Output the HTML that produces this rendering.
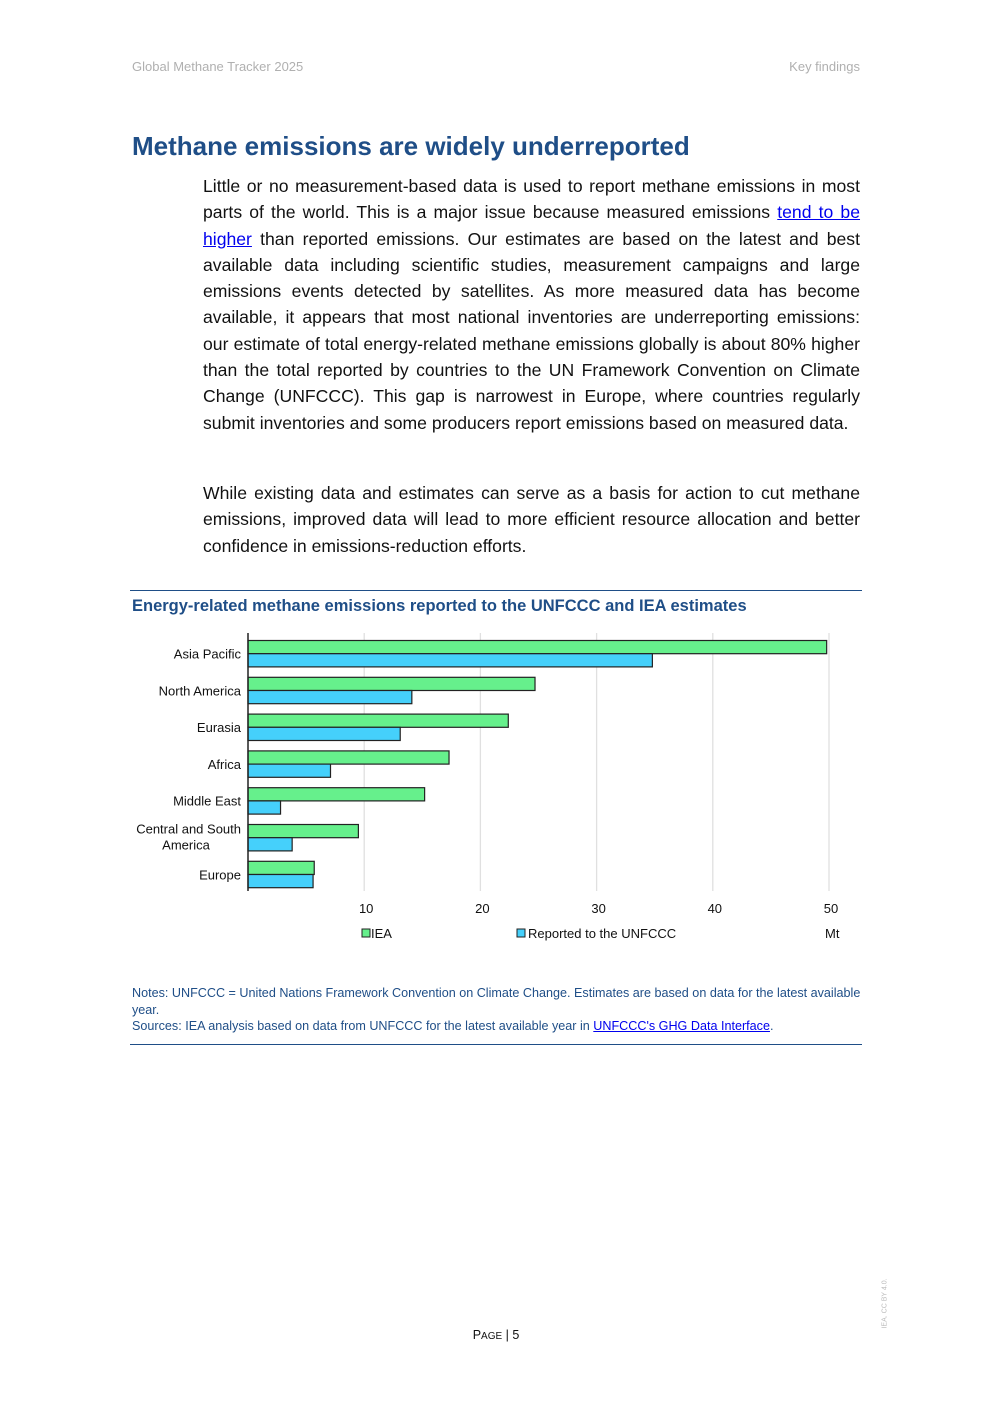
<!DOCTYPE html>
<html><head><meta charset="utf-8"><style>
body{margin:0;background:#fff;font-family:"Liberation Sans",Arial,sans-serif;}
.page{position:relative;width:992px;height:1403px;overflow:hidden;}
.hdr{position:absolute;top:59px;font-size:13px;color:#b0b0b0;}
h1{position:absolute;left:132px;top:131px;margin:0;font-size:26px;color:#1f4e87;font-weight:bold;}
.body{position:absolute;left:203px;width:657px;font-size:17.6px;line-height:26.3px;color:#111;text-align:justify;}
a{color:#0000ee;text-decoration:underline;}
.rule{position:absolute;left:130px;width:732px;height:1px;background:#1f4e87;}
.ctitle{position:absolute;left:132px;top:597px;font-size:16.5px;font-weight:bold;color:#1f4e87;}
.notes{position:absolute;left:132px;top:985px;width:730px;font-size:12.6px;line-height:16.5px;color:#1f4e87;}
.notes a{color:#0000ee;}
</style></head><body>
<div class="page">
<div class="hdr" style="left:132px">Global Methane Tracker 2025</div>
<div class="hdr" style="right:132px">Key findings</div>
<h1>Methane emissions are widely underreported</h1>
<div class="body" style="top:173px">Little or no measurement-based data is used to report methane emissions in most parts of the world. This is a major issue because measured emissions <a>tend to be higher</a> than reported emissions. Our estimates are based on the latest and best available data including scientific studies, measurement campaigns and large emissions events detected by satellites. As more measured data has become available, it appears that most national inventories are underreporting emissions: our estimate of total energy-related methane emissions globally is about 80% higher than the total reported by countries to the UN Framework Convention on Climate Change (UNFCCC). This gap is narrowest in Europe, where countries regularly submit inventories and some producers report emissions based on measured data.</div>
<div class="body" style="top:480px">While existing data and estimates can serve as a basis for action to cut methane emissions, improved data will lead to more efficient resource allocation and better confidence in emissions-reduction efforts.</div>
<div class="rule" style="top:590px"></div>
<div class="ctitle">Energy-related methane emissions reported to the UNFCCC and IEA estimates</div>
<svg id="chart" style="position:absolute;left:0;top:0" width="992" height="960"></svg>
<div class="notes">Notes: UNFCCC = United Nations Framework Convention on Climate Change. Estimates are based on data for the latest available year.<br>Sources: IEA analysis based on data from UNFCCC for the latest available year in <a>UNFCCC's GHG Data Interface</a>.</div>
<div class="rule" style="top:1044px"></div>
<div style="position:absolute;left:0;width:992px;top:1328px;text-align:center;font-size:12.5px;color:#111">P<span style="font-size:10px">AGE</span> | 5</div>
<div style="position:absolute;left:860px;top:1300px;transform:rotate(-90deg);font-size:7px;color:#bbb">IEA. CC BY 4.0.</div>
</div>
<script>
const categories=["Asia Pacific","North America","Eurasia","Africa","Middle East","Central and South America","Europe"];
const ieaValues=[49.8,24.7,22.4,17.3,15.2,9.5,5.7];
const unfcccValues=[34.8,14.1,13.1,7.1,2.8,3.8,5.6];
const tickValues=[10,20,30,40,50];
const NS="http://www.w3.org/2000/svg";
const svg=document.getElementById('chart');
const x0=248,pxPer=11.62,top0=640.5,pitch=36.8,bh=13.2;
const xs=v=>x0+v*pxPer;
function mk(t,a,txt){const e=document.createElementNS(NS,t);for(const k in a)e.setAttribute(k,a[k]);if(txt!==undefined)e.textContent=txt;svg.appendChild(e);return e;}
tickValues.forEach(t=>{
const g=mk('line',{x1:xs(t),x2:xs(t),y1:633,y2:891,stroke:'#e0e0e0','stroke-width':1.3});


const l=mk('text',{x:xs(t)+2,y:913,'text-anchor':'middle','font-size':13,fill:'#111','font-family':'Liberation Sans, sans-serif'},t);


});
categories.forEach((c,i)=>{
const y=top0+i*pitch;
const b1=mk('rect',{x:x0,y:y,width:xs(ieaValues[i])-x0,height:bh,fill:'#66f08c',stroke:'#222','stroke-width':1.2});


const b2=mk('rect',{x:x0,y:y+bh,width:xs(unfcccValues[i])-x0,height:bh,fill:'#45d0fb',stroke:'#222','stroke-width':1.2});


const parts=c==="Central and South America"?["Central and South","America"]:[c];
parts.forEach((p,j)=>{
const ty=parts.length>1?y+9+j*16:y+18;
const t=mk('text',{x:parts.length>1&&j==1?186:241,y:ty,'text-anchor':parts.length>1&&j==1?'middle':'end','font-size':13,fill:'#111','font-family':'Liberation Sans, sans-serif'},p);


});
});
const ax=mk('line',{x1:248,x2:248,y1:633,y2:891,stroke:'#222','stroke-width':1.5});


const lg1=mk('rect',{x:362,y:929,width:8,height:8,fill:'#66f08c',stroke:'#222'});


const lt1=mk('text',{x:371,y:938,'font-size':13,fill:'#111','font-family':'Liberation Sans, sans-serif'},'IEA');


const lg2=mk('rect',{x:517,y:929,width:8,height:8,fill:'#45d0fb',stroke:'#222'});


const lt2=mk('text',{x:528,y:938,'font-size':13,fill:'#111','font-family':'Liberation Sans, sans-serif'},'Reported to the UNFCCC');


const un=mk('text',{x:825,y:938,'font-size':13,fill:'#111','font-family':'Liberation Sans, sans-serif'},'Mt');


const cr=mk('text',{x:859,y:971,'text-anchor':'end','font-size':12.5,fill:'#999','font-family':'Liberation Sans, sans-serif'},'IEA. CC BY 4.0.');


</script>
</body></html>
